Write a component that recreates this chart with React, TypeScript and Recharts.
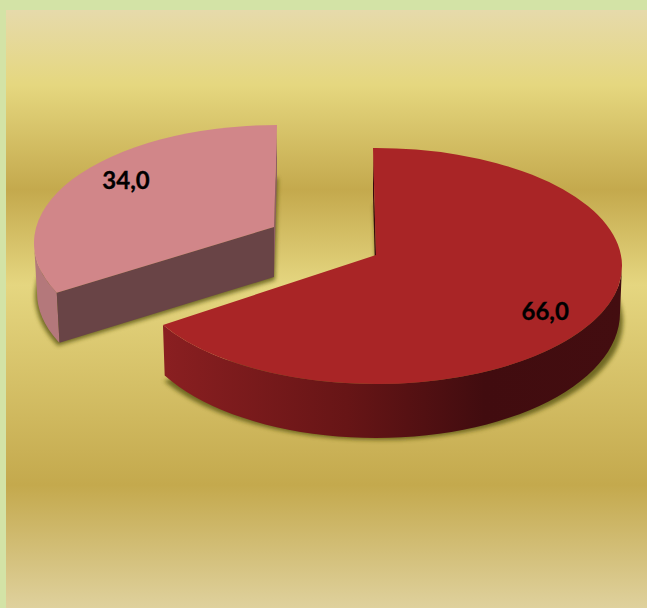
import { Pie, PieChart } from 'recharts';

const names = ['Grupo A', 'Grupo B'];
const values = [66, 34];

const chartData = names.map((name, i) => ({ name, value: values[i] }));

// how each slice is tilted and pulled out, the angles come from the Pie itself
const slices: Record<string, any> = {
  'Grupo A': {
    dx: 0, dy: 0, rx: 246, ry: 118, apexX: 0, apexY: -11, depth: 47, bulge: 7, inset: 2, shadow: 56,
    from: [0, 237.6], to: [-0.7, 240], wall: [90, 240],
    top: '#a92526', wallFill: 'url(#bigWall)', labelX: 0.785, labelY: 0.79,
  },
  'Grupo B': {
    dx: -99, dy: -23, rx: 243, ry: 118, apexX: -3, apexY: -16, depth: 50, bulge: 0, inset: 3, shadow: 53,
    from: [237.6, 360], to: [245, 360], wall: [245, 270],
    top: '#d18689', wallFill: '#b4787b', labelX: 0.709, labelY: 1.12,
  },
};

const rad = (deg: number) => (deg * Math.PI) / 180;

function SliceShape(props: any) {
  const s = slices[props.name];
  const cx = props.cx + s.dx;
  const cy = props.cy + s.dy;
  const pt = (t: number) => [
    cx + s.rx * Math.sin(rad(t)),
    cy - s.ry * Math.cos(rad(t)),
  ];
  // lower rim is a little narrower and deeper at the front, like the perspective in the picture
  const lower = (t: number) => [
    cx + (s.rx - s.inset) * Math.sin(rad(t)),
    cy - s.ry * Math.cos(rad(t)) + s.depth - s.bulge * Math.cos(rad(t)),
  ];
  // Pie angles run counterclockwise from 3 o'clock, turn them into clockwise from 12
  const toView = (angle: number) => {
    const a = 90 - angle;
    const f = (a - s.from[0]) / (s.from[1] - s.from[0]);
    return s.to[0] + f * (s.to[1] - s.to[0]);
  };
  const t0 = toView(props.startAngle);
  const t1 = toView(props.endAngle);
  const [x0, y0] = pt(t0);
  const [x1, y1] = pt(t1);
  const ax = cx + s.apexX;
  const ay = cy + s.apexY;
  const isBig = t1 - t0 > 180;
  const face = `M${ax},${ay} L${x0},${y0} A${s.rx},${s.ry} 0 ${isBig ? 1 : 0} 1 ${x1},${y1} Z`;

  const [w0, w1] = s.wall;
  const [wx0, wy0] = pt(w0);
  const [wx1, wy1] = pt(w1);
  const rim: string[] = [];
  for (let t = Math.max(w0, w1); t >= Math.min(w0, w1); t -= 3) {
    const [x, y] = lower(t);
    rim.push(`${x},${y}`);
  }
  const [lx, ly] = lower(Math.min(w0, w1));
  rim.push(`${lx},${ly}`);
  const wallPath = `M${wx0},${wy0} A${s.rx},${s.ry} 0 0 1 ${wx1},${wy1} L${rim.join(' L')} Z`;

  const d = s.depth;
  const [b0x, b0y] = lower(t0);
  // the cut from the top corner to the middle is only a sliver, the other cut faces us on the small slice
  const backCut = isBig
    ? `M${x0},${y0} L${x0},${y0 + d} L${ax},${ay + d} L${ax},${ay} Z`
    : `M${x1},${y1} L${x1},${y1 + d} L${ax},${ay + d} L${ax},${ay} Z`;
  const frontCut = `M${ax},${ay} L${x0},${y0} L${b0x},${b0y} L${ax},${ay + d} Z`;

  return (
    <g>
      <path d={face} transform={`translate(1,${s.shadow})`} fill="#5f5a18" opacity={0.85} filter="url(#softShadow)" />
      <path d={backCut} fill={isBig ? '#38090c' : '#8f5f61'} />
      <path d={wallPath} fill={s.wallFill} />
      {!isBig && <path d={frontCut} fill="#694446" />}
      <path d={face} fill={s.top} />
    </g>
  );
}

function renderLabel(props: any) {
  const s = slices[props.name];
  const a = rad(90 - props.midAngle);
  const x = props.cx + s.dx + s.rx * Math.sin(a) * s.labelX;
  const y = props.cy + s.dy - s.ry * Math.cos(a) * s.labelY;
  return (
    <text
      x={x}
      y={y}
      textAnchor="middle"
      dominantBaseline="central"
      fontFamily="Lato"
      fontWeight={700}
      fontSize={24}
      fill="#000"
      stroke="#000"
      strokeWidth={0.3}
    >
      {props.value.toFixed(1).replace('.', ',')}
    </text>
  );
}

export default function App() {
  return (
    <div style={{ position: 'absolute', left: 0, top: 0, width: 647, height: 608, background: '#d3e3a6' }}>
      <div
        style={{
          position: 'absolute',
          left: 6,
          top: 10,
          width: 641,
          height: 598,
          background:
            'linear-gradient(to bottom, #e6daab 0px, #e5d77f 75px, #c4a94d 180px, #e5d680 275px, #c4a94d 475px, #dfd19d 598px)',
        }}
      />
      <div style={{ position: 'absolute', left: 0, top: 0 }}>
        <PieChart width={647} height={608} margin={{ top: 0, right: 0, bottom: 0, left: 0 }}>
          <defs>
            <filter id="softShadow" x="-10%" y="-10%" width="120%" height="120%">
              <feGaussianBlur stdDeviation="2" />
            </filter>
            <linearGradient id="bigWall" x1="0" y1="0" x2="1" y2="0">
              <stop offset="0%" stopColor="#8a1f21" />
              <stop offset="40%" stopColor="#671516" />
              <stop offset="70%" stopColor="#410c0f" />
              <stop offset="100%" stopColor="#430d10" />
            </linearGradient>
          </defs>
          <Pie
            data={chartData}
            dataKey="value"
            nameKey="name"
            cx={376}
            cy={266}
            outerRadius={246}
            startAngle={90}
            endAngle={-270}
            shape={SliceShape}
            label={renderLabel}
            labelLine={false}
            isAnimationActive={false}
          />
        </PieChart>
      </div>
    </div>
  );
}
